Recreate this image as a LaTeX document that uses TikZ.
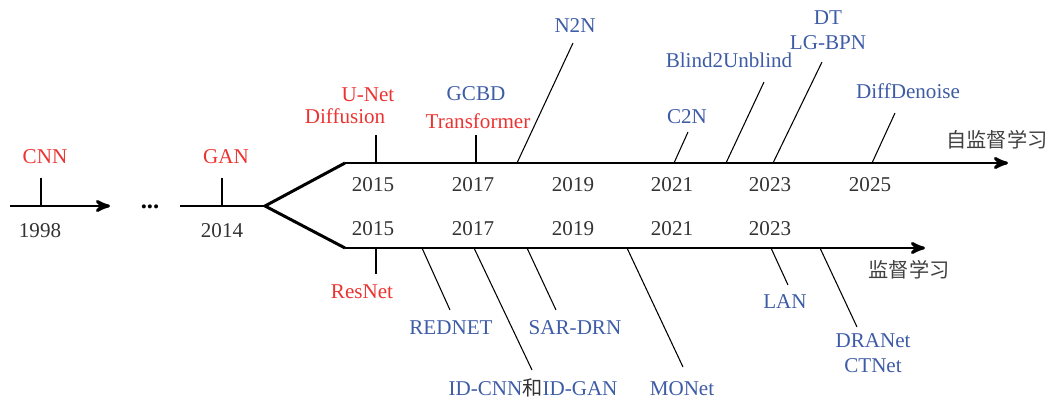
\documentclass[tikz,border=0pt]{standalone}
\usepackage{fontspec}
\setmainfont{Liberation Serif}
\newfontfamily\cjk{Noto Sans CJK SC}
\usepackage{tikz}
\usetikzlibrary{arrows}
\usepackage{xcolor}
\definecolor{tlred}{RGB}{235,52,50}
\definecolor{tlblue}{RGB}{62,92,166}

\begin{document}
\begin{tikzpicture}[x=0.02cm, y=-0.02cm, >=stealth', font=\fontsize{12}{14.2}\selectfont]
    \tikzstyle{axis} = [line width=1.7pt]
    \tikzstyle{tick} = [line width=0.6pt]
    \tikzstyle{yr} = [anchor=base, inner sep=0pt, text=black!80]
    \tikzstyle{old} = [anchor=base, inner sep=0pt, text=tlred]
    \tikzstyle{new} = [anchor=base, inner sep=0pt, text=tlblue]
    \tikzstyle{zh} = [anchor=base, inner sep=0pt, text=black!75,
        font=\cjk\fontsize{11.5}{14}\selectfont]
    \useasboundingbox (0,0) rectangle (1051,402);

    % main axes
    \coordinate (a0) at (10,206);
    \coordinate (a1) at (110,206);
    \coordinate (b0) at (180,206);
    \coordinate (fork) at (265,206);
    \coordinate (up) at (345,163);
    \coordinate (upend) at (1008,163);
    \coordinate (lo) at (345,248);
    \coordinate (loend) at (925,248);
    \draw[axis, ->] (a0) -- (a1);
    \draw[axis] (b0) -- (fork);
    \draw[axis] (up) -- (fork) -- (lo);
    \draw[axis, ->] (up) -- (upend);
    \draw[axis, ->] (lo) -- (loend);
    \node [inner sep=0pt, font=\fontsize{14}{14}\selectfont] at (150,207) (dots) {\textbf{...}};

    % years
    \node [yr] at (40,237) (y1998) {1998};
    \node [yr] at (222,237) (y2014) {2014};
    \node [yr] at (373,191) (u2015) {2015};
    \node [yr] at (473,191) (u2017) {2017};
    \node [yr] at (573,191) (u2019) {2019};
    \node [yr] at (672,191) (u2021) {2021};
    \node [yr] at (770,191) (u2023) {2023};
    \node [yr] at (870,191) (u2025) {2025};
    \node [yr] at (373,235) (l2015) {2015};
    \node [yr] at (473,235) (l2017) {2017};
    \node [yr] at (573,235) (l2019) {2019};
    \node [yr] at (672,235) (l2021) {2021};
    \node [yr] at (770,235) (l2023) {2023};
    \node [zh] at (997,148) (selfsup) {自监督学习};
    \node [zh] at (909,277) (sup) {监督学习};

    % early models
    \node [old] at (45,163) (cnn) {CNN};
    \node [old] at (226,163) (gan) {GAN};
    \coordinate (cnnA) at (41,206);  \coordinate (cnnB) at (41,178);
    \coordinate (ganA) at (222,206); \coordinate (ganB) at (222,178);
    \draw[tick] (cnnA) -- (cnnB);
    \draw[tick] (ganA) -- (ganB);

    % self-supervised branch
    \node [old] at (368,102) (unet) {U-Net};
    \node [old] at (345,124) (diffusion) {Diffusion};
    \node [new] at (476,101) (gcbd) {GCBD};
    \node [old] at (478,129) (transformer) {Transformer};
    \node [new] at (575,33) (n2n) {N2N};
    \node [new] at (687,124) (c2n) {C2N};
    \node [new] at (729,68) (b2u) {Blind2Unblind};
    \node [text=tlblue, inner sep=0pt, align=center] at (828,30.5) (dtlg) {DT\\LG-BPN};
    \node [new] at (908,99) (diffdn) {DiffDenoise};
    \coordinate (unetA) at (376,163); \coordinate (unetB) at (376,135);
    \coordinate (gcbdA) at (476,163); \coordinate (gcbdB) at (476,135);
    \coordinate (n2nA) at (517,163);  \coordinate (n2nB) at (573,43);
    \coordinate (c2nA) at (674,163);  \coordinate (c2nB) at (688,132);
    \coordinate (b2uA) at (726,163);  \coordinate (b2uB) at (764,82);
    \coordinate (dtA) at (773,163);   \coordinate (dtB) at (822,62);
    \coordinate (ddA) at (872,163);   \coordinate (ddB) at (895,113);
    \draw[tick] (unetA) -- (unetB);
    \draw[tick] (gcbdA) -- (gcbdB);
    \draw[tick] (n2nA) -- (n2nB);
    \draw[tick] (c2nA) -- (c2nB);
    \draw[tick] (b2uA) -- (b2uB);
    \draw[tick] (dtA) -- (dtB);
    \draw[tick] (ddA) -- (ddB);

    % supervised branch
    \node [old] at (362,298) (resnet) {ResNet};
    \node [new] at (451,334) (rednet) {REDNET};
    \node [new] at (575,334) (sardrn) {SAR-DRN};
    \node [new] at (533,395) (idcnn) {ID-CNN{\cjk\fontsize{11.5}{14}\selectfont\color{black!80}和}ID-GAN};
    \node [new] at (682,395) (monet) {MONet};
    \node [new] at (785,308) (lan) {LAN};
    \node [text=tlblue, inner sep=0pt, align=center] at (873,353.5) (dracn) {DRANet\\CTNet};
    \coordinate (resA) at (376,248); \coordinate (resB) at (376,274);
    \coordinate (redA) at (422,248); \coordinate (redB) at (450,310);
    \coordinate (idA) at (474,248);  \coordinate (idB) at (532,370);
    \coordinate (sarA) at (527,248); \coordinate (sarB) at (556,310);
    \coordinate (monA) at (627,248); \coordinate (monB) at (683,367);
    \coordinate (lanA) at (771,248); \coordinate (lanB) at (788,285);
    \coordinate (draA) at (820,248); \coordinate (draB) at (857,327);
    \draw[tick] (resA) -- (resB);
    \draw[tick] (redA) -- (redB);
    \draw[tick] (idA) -- (idB);
    \draw[tick] (sarA) -- (sarB);
    \draw[tick] (monA) -- (monB);
    \draw[tick] (lanA) -- (lanB);
    \draw[tick] (draA) -- (draB);
\end{tikzpicture}
\end{document}
